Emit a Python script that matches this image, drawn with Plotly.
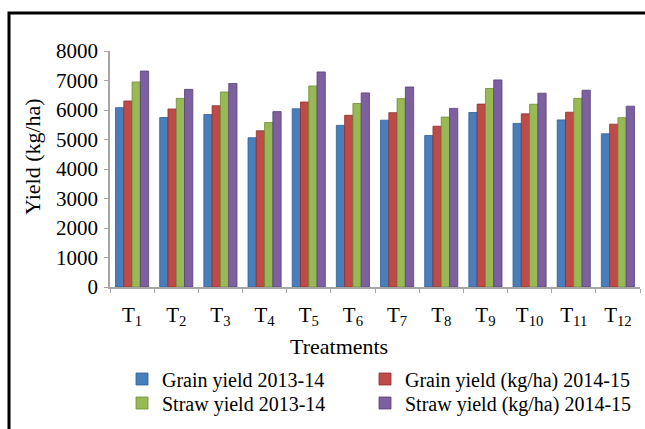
import plotly.graph_objects as go

categories = ["T<sub>1</sub>", "T<sub>2</sub>", "T<sub>3</sub>", "T<sub>4</sub>", "T<sub>5</sub>", "T<sub>6</sub>",
              "T<sub>7</sub>", "T<sub>8</sub>", "T<sub>9</sub>", "T<sub>10</sub>", "T<sub>11</sub>", "T<sub>12</sub>"]
grain_2013 = [6080, 5745, 5845, 5060, 6040, 5480, 5655, 5135, 5915, 5545, 5665, 5195]
grain_2014 = [6305, 6035, 6145, 5295, 6270, 5820, 5910, 5450, 6200, 5870, 5925, 5520]
straw_2013 = [6950, 6395, 6610, 5575, 6815, 6220, 6385, 5760, 6730, 6195, 6395, 5740]
straw_2014 = [7320, 6700, 6900, 5945, 7290, 6580, 6780, 6055, 7020, 6570, 6670, 6130]
y_ticks = [0, 1000, 2000, 3000, 4000, 5000, 6000, 7000, 8000]

FONT = "Liberation Serif"
W, H = 645, 429

def fx(x):
    return x / W

def fy(y):
    return 1 - y / H

# name, values, fill, edge, legend id, legend text-start x (px), legend row y (px)
series = [
    ("Grain yield 2013-14", grain_2013, "#4A7EBB", "#2F5F94", "legend", 162, 379),
    ("Grain yield (kg/ha) 2014-15", grain_2014, "#BE4B48", "#8E2F2D", "legend2", 405, 379),
    ("Straw yield 2013-14", straw_2013, "#98B954", "#6E8C35", "legend3", 162, 403),
    ("Straw yield (kg/ha) 2014-15", straw_2014, "#7D60A0", "#574177", "legend4", 405, 403),
]

fig = go.Figure()
legends = {}
for name, vals, col, edge, lg, lx, ly in series:
    fig.add_trace(go.Bar(
        x=categories, y=vals, name=name,
        marker=dict(color=col, line=dict(color=edge, width=0.8)),
        legend=lg,
    ))
    legends[lg] = dict(orientation="h", x=fx(lx - 40), y=fy(ly), xanchor="left", yanchor="middle",
                       font=dict(family=FONT, size=20, color="black"),
                       bgcolor="rgba(0,0,0,0)", borderwidth=0)

fig.update_layout(
    width=W, height=H,
    margin=dict(l=0, r=0, t=0, b=0),
    paper_bgcolor="white", plot_bgcolor="white",
    font=dict(family=FONT, color="black", size=20),
    barmode="group", bargap=0.25, bargroupgap=0,
    showlegend=True,
    **legends,
    xaxis=dict(
        domain=[fx(110), fx(640)],
        type="category", showgrid=False, zeroline=False, automargin=False,
        showline=True, linecolor="#A6A6A6", linewidth=1.5,
        ticks="outside", tickson="boundaries", ticklen=4, tickcolor="#A6A6A6",
        tickfont=dict(family=FONT, size=21, color="black"),
        ticklabelstandoff=8,
    ),
    yaxis=dict(
        domain=[fy(287), fy(51)],
        range=[0, 8000], tickvals=y_ticks, showgrid=False, zeroline=False, automargin=False,
        showline=True, linecolor="#A6A6A6", linewidth=1.5,
        ticks="outside", ticklen=4, tickcolor="#A6A6A6",
        tickfont=dict(family=FONT, size=21, color="black"),
        ticklabelstandoff=2,
    ),
    annotations=[
        dict(text="Yield (kg/ha)", textangle=-90, xref="paper", yref="paper",
             x=fx(33), y=fy(157), xanchor="center", yanchor="middle", showarrow=False,
             font=dict(family=FONT, size=22, color="black")),
        dict(text="Treatments", xref="paper", yref="paper",
             x=fx(339), y=fy(346), xanchor="center", yanchor="middle", showarrow=False,
             font=dict(family=FONT, size=22, color="black")),
    ],
    shapes=[
        dict(type="rect", xref="paper", yref="paper",
             x0=fx(9), x1=fx(660), y0=fy(445), y1=fy(13),
             line=dict(color="black", width=3), fillcolor="rgba(0,0,0,0)", layer="above"),
    ],
)

fig.write_html(
    "out.html",
    config={"displayModeBar": False},
    post_script="document.body.style.margin='0';document.body.style.overflow='hidden';",
)
